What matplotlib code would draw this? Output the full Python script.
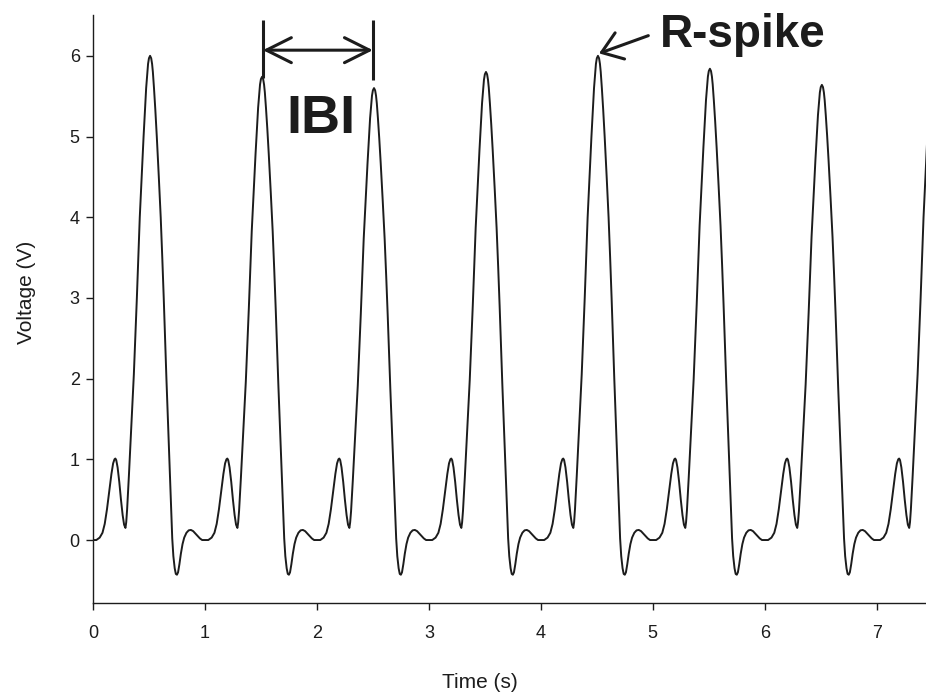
import numpy as np
import matplotlib
matplotlib.use("Agg")
import matplotlib.pyplot as plt

plt.rcParams['font.family'] = ['Liberation Sans', 'DejaVu Sans']

# one heartbeat cycle (time within cycle in s, voltage in V)
cycle_t = np.array([0.000, 0.030, 0.060, 0.085, 0.105, 0.125, 0.145, 0.165, 0.180, 0.192,
                    0.200, 0.208, 0.220, 0.235, 0.250, 0.265, 0.278, 0.290, 0.297, 0.305,
                    0.313, 0.321, 0.329, 0.338, 0.350, 0.365, 0.378, 0.392, 0.405, 0.418,
                    0.435, 0.452, 0.465, 0.475, 0.485, 0.492, 0.500, 0.510, 0.520, 0.528,
                    0.535, 0.545, 0.557, 0.570, 0.588, 0.605, 0.619, 0.632, 0.644, 0.656,
                    0.669, 0.682, 0.693, 0.700, 0.708, 0.718, 0.730, 0.740, 0.750, 0.760,
                    0.772, 0.785, 0.800, 0.815, 0.835, 0.855, 0.875, 0.895, 0.915, 0.935,
                    0.955, 0.975, 1.000])
cycle_v = np.array([0.00, 0.00, 0.03, 0.09, 0.20, 0.38, 0.60, 0.82, 0.95, 1.00,
                    1.01, 0.99, 0.90, 0.72, 0.50, 0.31, 0.19, 0.15, 0.22, 0.38,
                    0.58, 0.80, 1.03, 1.28, 1.62, 2.05, 2.50, 3.00, 3.50, 4.00,
                    4.50, 5.00, 5.33, 5.60, 5.78, 5.90, 5.97, 6.00, 5.97, 5.90,
                    5.80, 5.60, 5.33, 5.00, 4.50, 4.00, 3.50, 3.00, 2.50, 2.00,
                    1.50, 1.00, 0.55, 0.30, 0.02, -0.20, -0.35, -0.42, -0.43, -0.40,
                    -0.30, -0.17, -0.05, 0.03, 0.09, 0.12, 0.125, 0.11, 0.08, 0.05,
                    0.02, 0.00, 0.00])
template_peak = 6.0

# R-spike height of each beat
peak_heights = [6.0, 5.74, 5.6, 5.8, 6.0, 5.84, 5.64, 6.0]

t_all = []
v_all = []
r_wave = (cycle_t[:-1] >= 0.3) & (cycle_t[:-1] <= 0.7)
for k, h in enumerate(peak_heights):
    scale = np.where(r_wave, h / template_peak, 1.0)
    t_all.append(k + cycle_t[:-1])
    v_all.append(cycle_v[:-1] * scale)
t_all = np.concatenate(t_all)
v_all = np.concatenate(v_all)

ink = '#1c1c1c'

fig = plt.figure(figsize=(9.26, 7), dpi=100)
ax = fig.add_axes([0.1004, 0.1386, 0.8996, 0.8393])

ax.plot(t_all, v_all, color=ink, lw=1.4)

ax.set_xlim(0, 7.44)
ax.set_ylim(-0.78, 6.5)
ax.set_xticks(range(0, 8))
ax.set_yticks(range(0, 7))

for s in ['top', 'right']:
    ax.spines[s].set_visible(False)
for s in ['left', 'bottom']:
    ax.spines[s].set_linewidth(1.0)
    ax.spines[s].set_color(ink)

ax.tick_params(axis='both', direction='out', length=5, width=1.0, colors=ink,
               labelsize=13)
ax.tick_params(axis='x', pad=11)
ax.tick_params(axis='y', pad=4.5)

ax.set_xlabel('Time (s)', fontsize=15, color=ink)
ax.xaxis.set_label_coords(0.4646, -0.119)
ax.set_ylabel('Voltage (V)', fontsize=15, color=ink)
ax.yaxis.set_label_coords(-0.068, 0.529)

# IBI marker
ax.plot([1.518, 1.518], [5.72, 6.44], color=ink, lw=2.2, solid_capstyle='butt')
ax.plot([2.50, 2.50], [5.70, 6.44], color=ink, lw=2.2, solid_capstyle='butt')
ax.annotate('', xy=(1.518, 6.07), xytext=(2.50, 6.07),
            arrowprops=dict(arrowstyle='<->,head_length=0.9,head_width=0.45',
                            color=ink, lw=2.2, shrinkA=0, shrinkB=0,
                            mutation_scale=20))
ax.text(1.73, 5.04, 'IBI', fontsize=39, fontweight='bold', color=ink,
        ha='left', va='baseline')

# R-spike label
ax.annotate('', xy=(4.52, 6.03), xytext=(4.96, 6.25),
            arrowprops=dict(arrowstyle='->,head_length=0.7,head_width=0.5',
                            color=ink, lw=2.2, shrinkA=0, shrinkB=0,
                            mutation_scale=20))
ax.text(5.06, 6.11, 'R-spike', fontsize=33, fontweight='bold', color=ink,
        ha='left', va='baseline')

fig.savefig('out.png', dpi=100)
